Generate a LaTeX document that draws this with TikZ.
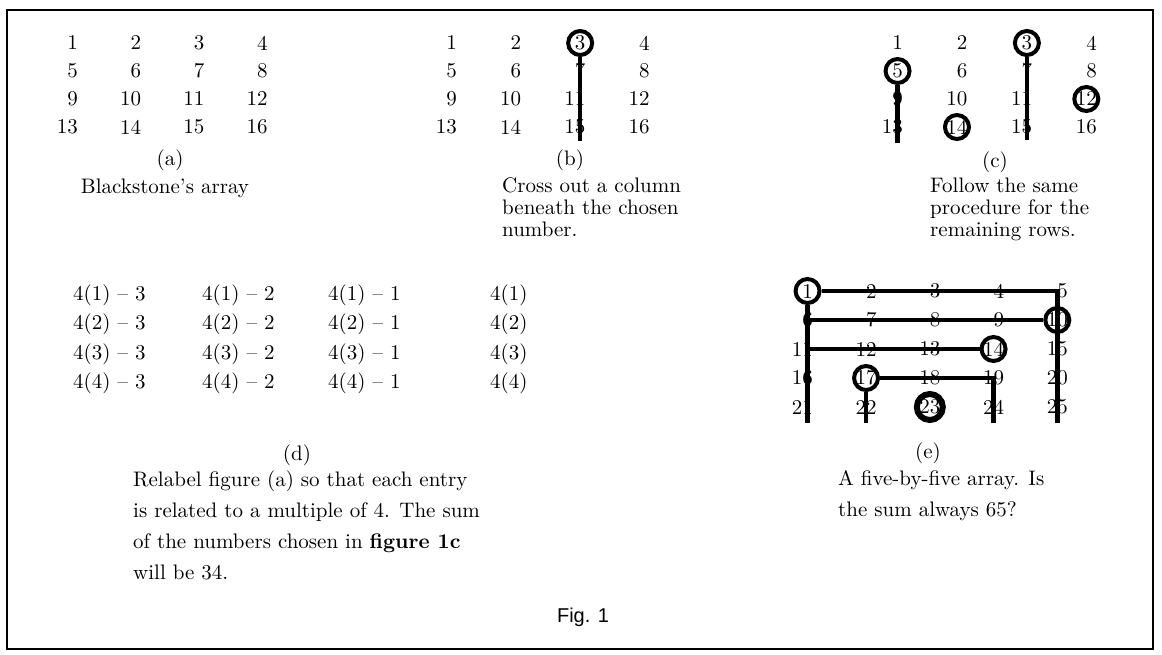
\documentclass[tikz,border=0pt]{standalone}
\usepackage{fontspec}
\setmainfont{lmroman10-regular.otf}[BoldFont=lmroman10-bold.otf,
  ItalicFont=lmroman10-italic.otf]
\setsansfont{Liberation Sans}
\usetikzlibrary{positioning,calc}

\begin{document}
\begin{tikzpicture}[
  x=1pt, y=-1pt,
  num/.style     = {anchor=east, inner sep=0pt, font=\fontsize{21}{22}\selectfont},
  expr/.style    = {anchor=west, inner sep=0pt, font=\fontsize{21}{22}\selectfont},
  lbl/.style     = {inner sep=0pt, font=\fontsize{21}{22}\selectfont},
  captxt/.style  = {anchor=north west, align=left, inner sep=0pt,
                    font=\fontsize{21}{22}\selectfont},
  captxtL/.style = {captxt, font=\fontsize{21}{31}\selectfont},
  ring/.style    = {circle, draw=black, line width=4pt, minimum size=24pt, inner sep=0pt},
  ringH/.style   = {ring, line width=6pt, minimum size=26pt},
  cross/.style   = {draw=black, line width=4.5pt}
]
\useasboundingbox (0,0) rectangle (1162,654);
\draw[line width=1.2pt] (7,10) rectangle (1153,649);

% (a) Blackstone's array
\foreach \n in {1,...,16} {
  \pgfmathtruncatemacro\cc{mod(\n-1,4)}
  \pgfmathtruncatemacro\rr{div(\n-1,4)}
  \node[num] (a\n) at (78+63.3*\cc, 43+28*\rr) {\n};
}
\node[lbl] (labA) at (170,160) {(a)};
\node[lbl] (txtA) at (165,188) {Blackstone's array};

% (b) one column crossed out
\foreach \n in {1,...,16} {
  \pgfmathtruncatemacro\cc{mod(\n-1,4)}
  \pgfmathtruncatemacro\rr{div(\n-1,4)}
  \node[num] (b\n) at (457+64.3*\cc, 43+28*\rr) {\n};
}
\node[ring] (b3r) at (b3) {};
\draw[cross, shorten >=-7pt] (b3r.south) -- (b3r.south |- b15.south);
\node[lbl] (labB) at (570,160) {(b)};
\node[captxt] (txtB) at (502,177) {Cross out a column\\beneath the chosen\\number.};

% (c) all rows done
\foreach \n in {1,...,16} {
  \pgfmathtruncatemacro\cc{mod(\n-1,4)}
  \pgfmathtruncatemacro\rr{div(\n-1,4)}
  \node[num] (c\n) at (903+64.67*\cc, 43+28*\rr) {\n};
}
\node[ring] (c3r)  at (c3)  {};
\node[ring] (c5r)  at (c5)  {};
\node[ring] (c12r) at (c12) {};
\node[ring] (c14r) at (c14) {};
\draw[cross, shorten >=-6pt] (c3r.south) -- (c3r.south |- c15.south);
\draw[cross, shorten >=-9pt] (c5r.south) -- (c5r.south |- c13.south);
\node[lbl] (labC) at (995,162) {(c)};
\node[captxt] (txtC) at (930,178) {Follow the same\\procedure for the\\remaining rows.};

% (d) relabelled array
\foreach \r in {1,...,4} {
  \node[expr] (d\r-1) at (73, 265.5+29.5*\r)  {4(\r) -- 3};
  \node[expr] (d\r-2) at (202, 265.5+29.5*\r) {4(\r) -- 2};
  \node[expr] (d\r-3) at (328, 265.5+29.5*\r) {4(\r) -- 1};
  \node[expr] (d\r-4) at (490, 265.5+29.5*\r) {4(\r)};
}
\node[lbl] (labD) at (297,455) {(d)};
\node[captxtL] (txtD) at (133,471) {Relabel figure (a) so that each entry\\
  is related to a multiple of 4. The sum\\
  of the numbers chosen in \textbf{figure 1c}\\
  will be 34.};

% (e) five-by-five
\foreach \n in {1,...,25} {
  \pgfmathtruncatemacro\cc{mod(\n-1,5)}
  \pgfmathtruncatemacro\rr{div(\n-1,5)}
  \node[num] (e\n) at (813+63.75*\cc, 291+29*\rr) {\n};
}
\coordinate (eBot) at (0,423);
\node[ring]  (e1r)  at (e1)  {};
\node[ring]  (e10r) at (e10) {};
\node[ring]  (e14r) at (e14) {};
\node[ring]  (e17r) at (e17) {};
\node[ringH] (e23r) at (e23) {};
\draw[cross] (e1r.east) -| (e10r.center |- eBot);
\draw[cross] (e1r.south) -- (e1r.south |- eBot);
\draw[cross] (e1r.center |- e10r.west) -- (e10r.west);
\draw[cross] (e1r.center |- e14r.west) -- (e14r.west);
\draw[cross] (e17r.east) -| (e24.center |- eBot);
\draw[cross] (e17r.south) -- (e17r.south |- eBot);
\node[lbl] (labE) at (928,453) {(e)};
\node[captxtL] (txtE) at (838,470) {A five-by-five array. Is\\the sum always 65?};

\node[lbl, font=\sffamily\fontsize{20}{22}\selectfont] (figNo) at (583,617) {Fig. 1};

\end{tikzpicture}
\end{document}
